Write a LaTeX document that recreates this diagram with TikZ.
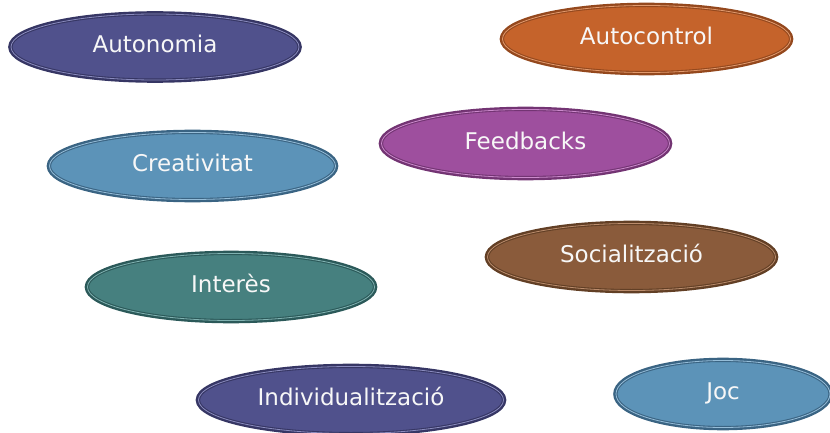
\documentclass[tikz,border=0pt]{standalone}
\usepackage{fontspec}
\setmainfont{DejaVu Sans}
\usetikzlibrary{shapes.geometric}
\definecolor{navyF}{HTML}{50518C}
\definecolor{navyD}{HTML}{363664}
\definecolor{navyL}{HTML}{8A8BBE}
\definecolor{orangeF}{HTML}{C5632B}
\definecolor{orangeD}{HTML}{94481D}
\definecolor{orangeL}{HTML}{E29A6E}
\definecolor{purpleF}{HTML}{9E4F9E}
\definecolor{purpleD}{HTML}{733473}
\definecolor{purpleL}{HTML}{CC8ACC}
\definecolor{blueF}{HTML}{5C93B8}
\definecolor{blueD}{HTML}{3A6483}
\definecolor{blueL}{HTML}{95BDD8}
\definecolor{brownF}{HTML}{8A5B3B}
\definecolor{brownD}{HTML}{623F25}
\definecolor{brownL}{HTML}{BB8C6C}
\definecolor{tealF}{HTML}{46807F}
\definecolor{tealD}{HTML}{2B5959}
\definecolor{tealL}{HTML}{80B2B1}
\definecolor{txt}{HTML}{F7F7F7}
\tikzset{
  oval/.style n args={3}{ellipse, inner sep=0pt, fill=#1,
     preaction={draw=#2, line width=5.6pt},
     draw=#2, double=#3, line width=1.1pt, double distance=0.8pt, text=txt,
     text height=17.5pt, text depth=6pt,
     font=\fontsize{23}{27}\selectfont},
  navy/.style={oval={navyF}{navyD}{navyL}},
  orng/.style={oval={orangeF}{orangeD}{orangeL}},
  purp/.style={oval={purpleF}{purpleD}{purpleL}},
  blu/.style={oval={blueF}{blueD}{blueL}},
  brwn/.style={oval={brownF}{brownD}{brownL}},
  tel/.style={oval={tealF}{tealD}{tealL}},
}
\begin{document}
\begin{tikzpicture}[x=1pt,y=1pt]
\useasboundingbox (0,0) rectangle (830,432);
\clip (0,0) rectangle (830,432);
\node[navy, minimum width=288pt, minimum height=66pt] (autonomia) at (155,385) {Autonomia};
\node[orng, minimum width=288pt, minimum height=67pt] (autocontrol) at (646.5,393) {Autocontrol};
\node[purp, minimum width=288pt, minimum height=68pt] (feedbacks) at (525.5,288.5) {Feedbacks};
\node[blu, minimum width=286pt, minimum height=67pt] (creativitat) at (192.5,266) {Creativitat};
\node[brwn, minimum width=288pt, minimum height=67pt] (socialitzacio) at (631.5,175) {Socialització};
\node[tel, minimum width=287pt, minimum height=67pt] (interes) at (231,145) {Interès};
\node[navy, minimum width=305pt, minimum height=67pt] (individualitzacio) at (351,32) {Individualització};
\node[blu, minimum width=214pt, minimum height=67pt] (joc) at (723,38) {Joc};
\end{tikzpicture}
\end{document}
